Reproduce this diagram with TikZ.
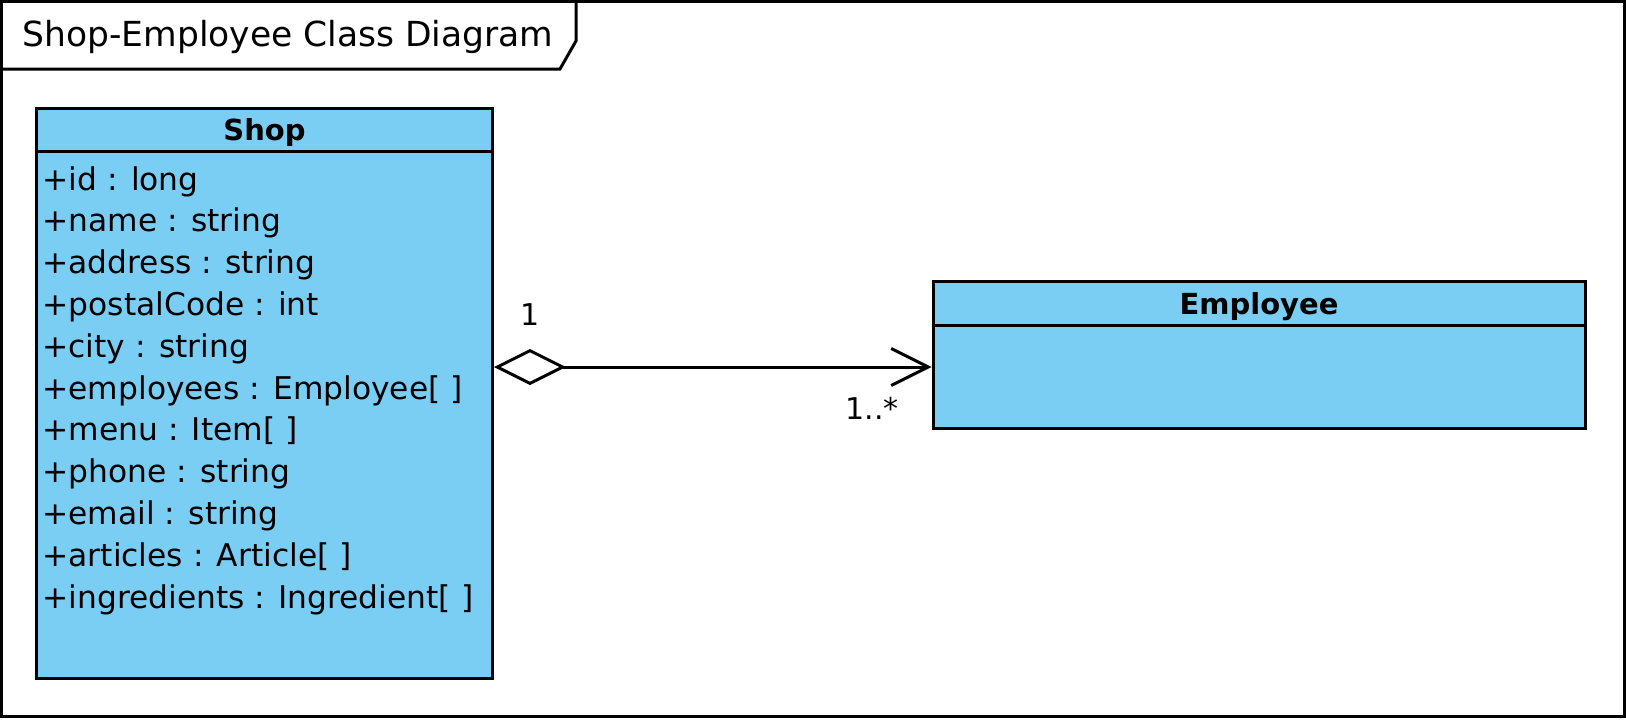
\documentclass[tikz,border=0pt]{standalone}
\usepackage{fontspec}
\setmainfont{DejaVu Sans}
\usetikzlibrary{arrows.meta,positioning}
\definecolor{classblue}{RGB}{122,206,244}

\begin{document}
\begin{tikzpicture}[x=1pt, y=-1pt, line width=3pt,
    classbox/.style={draw, fill=classblue, rectangle, inner sep=0pt},
    header/.style={font=\fontsize{29}{34}\selectfont\bfseries, minimum height=42pt, inner sep=0pt, text height=30pt, text depth=7pt},
    attr/.style={anchor=west, inner sep=0pt, font=\fontsize{31.3}{36}\selectfont, text height=0.75em, text depth=0.25em},
    mult/.style={inner sep=0pt, font=\fontsize{30}{36}\selectfont},
    aggr/.style={{Diamond[open, length=72pt, width=36pt]}-{Straight Barb[length=37pt, width=37pt]}}]
\useasboundingbox (0,0) rectangle (1626,720);

% Frame and title tab
\draw (1.5,1.5) rectangle (1624,716.5);
\draw (1.5,69) -- (560,69) -- (576,41) -- (576,1.5);
\node[anchor=west, inner sep=0pt, font=\fontsize{34.5}{40}\selectfont] (title) at (21,37) {Shop-Employee Class Diagram};

% Shop class
\node[classbox, minimum width=456pt, minimum height=570pt] (shop) at (264.5,393) {};
\node[header, below=0pt of shop.north] (shophead) {Shop};
\draw (shop.west |- shophead.south) -- (shop.east |- shophead.south);
\foreach \txt [count=\i from 0] in {{+id : long}, {+name : string}, {+address : string},
    {+postalCode : int}, {+city : string}, {+employees : Employee[ ]}, {+menu : Item[ ]},
    {+phone : string}, {+email : string}, {+articles : Article[ ]},
    {+ingredients : Ingredient[ ]}}
  \node[attr] (attr\i) at (41, 187.5+41.8*\i) {\txt};

% Employee class
\node[classbox, minimum width=652pt, minimum height=147pt] (emp) at (1259,355) {};
\node[header, below=0pt of emp.north] (emphead) {Employee};
\draw (emp.west |- emphead.south) -- (emp.east |- emphead.south);

% Aggregation
\coordinate (link) at (0,367);
\draw[aggr] (shop.east |- link) -- (emp.west |- link);
\node[mult] (m1) at (530,315) {1};
\node[mult] (m2) at (872,408) {1..*};
\end{tikzpicture}
\end{document}
